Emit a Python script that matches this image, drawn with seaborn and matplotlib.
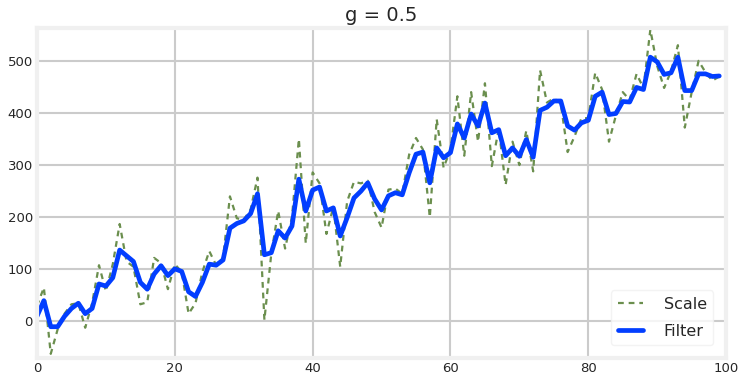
import numpy as np
import pandas as pd
import matplotlib
matplotlib.use('Agg')
import matplotlib.pyplot as plt
import seaborn as sns

sns.set_style('whitegrid')

# values
steps = list(range(100))

scale = [30, 65, -62, -15, 15, 33, 35, -12, 35, 108,
         58, 110, 187, 115, 105, 33, 37, 122, 112, 62,
         110, 95, 15, 35, 95, 135, 108, 122, 240, 198,
         195, 215, 276, 3, 130, 212, 140, 200, 350, 150,
         286, 265, 168, 220, 105, 230, 268, 265, 270, 210,
         180, 253, 255, 245, 320, 352, 330, 200, 388, 295,
         330, 432, 318, 440, 345, 457, 298, 370, 262, 345,
         300, 366, 288, 482, 420, 428, 418, 325, 355, 390,
         390, 477, 445, 345, 395, 440, 425, 475, 448, 560,
         490, 448, 480, 530, 372, 440, 500, 478, 462, 470]

filt = [10, 40, -10, -10, 10, 25, 35, 15, 25, 72,
        68, 84, 137, 126, 115, 75, 62, 91, 107, 88,
        101, 96, 57, 48, 75, 110, 108, 118, 179, 188,
        193, 207, 245, 128, 132, 174, 160, 183, 273, 212,
        252, 258, 212, 218, 164, 199, 237, 250, 266, 235,
        214, 241, 247, 243, 285, 321, 325, 266, 333, 314,
        324, 379, 352, 398, 375, 419, 362, 368, 318, 333,
        317, 349, 315, 405, 411, 423, 423, 375, 367, 381,
        386, 432, 440, 397, 399, 422, 421, 449, 445, 507,
        498, 474, 477, 507, 443, 443, 475, 475, 470, 471]

df = pd.DataFrame({'step': steps, 'Scale': scale, 'Filter': filt})

plt.rcParams['axes.edgecolor'] = '#f0f0f0'
plt.rcParams['axes.linewidth'] = 3
plt.rcParams['grid.color'] = '#cbcbcb'
plt.rcParams['grid.linewidth'] = 1.5

fig = plt.figure(figsize=(7.44, 3.81), dpi=100)
ax = fig.add_axes([0.0497, 0.0604, 0.9263, 0.8661])

sns.lineplot(data=df, x='step', y='Scale', ax=ax, color='#6b8f4e', lw=1.6,
             dashes=False, label='Scale')
ax.lines[-1].set_dashes([2.6, 2.2])
sns.lineplot(data=df, x='step', y='Filter', ax=ax, color='#023eff', lw=3.4,
             label='Filter')

ax.set_xlim(0, 100)
ax.set_ylim(-70, 563)
ax.set_xticks([0, 20, 40, 60, 80, 100])
ax.set_yticks([0, 100, 200, 300, 400, 500])
ax.set_xlabel('')
ax.set_ylabel('')
ax.tick_params(length=0, labelsize=9.5, pad=3)
ax.set_title('g = 0.5', fontsize=14, pad=5)
for s in ax.spines.values():
    s.set_visible(True)
    s.set_color('#f0f0f0')
    s.set_linewidth(3)

leg = ax.legend(loc='lower right', fontsize=11.5, handlelength=1.6,
                handletextpad=1.3, labelspacing=0.75, frameon=True,
                facecolor='white', edgecolor='#f0f0f0', borderaxespad=0.8)
leg.get_lines()[0].set_dashes([2.6, 2.2])

fig.savefig('out.png', dpi=100)
